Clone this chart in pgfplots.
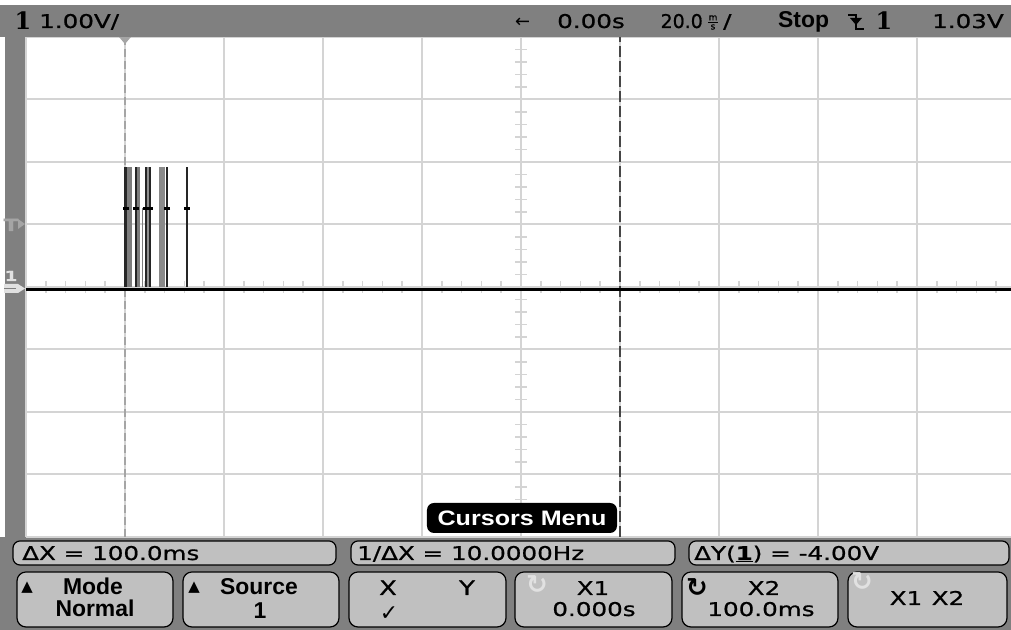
\documentclass[border=0pt]{standalone}
\usepackage{pgfplots}
\pgfplotsset{compat=1.18}
\usepackage{fontspec}
\setmainfont{DejaVu Sans}
\newfontfamily\scf[FakeStretch=1.3,FakeBold=0.8]{DejaVu Sans}
\newfontfamily\scn[FakeBold=0.8]{DejaVu Sans}
\newfontfamily\btnf{Liberation Sans}
\newfontfamily\btnw[FakeStretch=1.2]{Liberation Sans}
\newfontfamily\symf{DejaVu Sans}
\newfontfamily\serifb{DejaVu Serif}
\definecolor{scopegray}{RGB}{128,128,128}
\definecolor{btnfill}{RGB}{192,192,192}
\definecolor{gridc}{RGB}{212,212,212}
\definecolor{cur1}{RGB}{165,165,165}
\definecolor{cur2}{RGB}{70,70,70}
\definecolor{pulsegray}{RGB}{125,125,125}
\definecolor{faint}{RGB}{225,225,225}

% pulse train (time in ms, level in V)
\pgfplotstableread{
t v
0.1 1.92
2.2 1.92
4.25 1.92
5.05 1.92
8.5 1.92
12.5 1.92
}\darkpulses

\begin{document}
\begin{tikzpicture}
\useasboundingbox (0,0) rectangle (1011bp,630bp);
\clip (0,0) rectangle (1011bp,630bp);
\begin{scope}[x=1bp,y=-1bp,yshift=630bp]
  \fill[scopegray] (0,0) rectangle (1011,630);
  \fill[white] (0,0) rectangle (1011,5);
  \fill[white] (0,0) rectangle (5,537);
  \fill[white] (26,37) rectangle (1016,537);
  % minor ticks on centre lines
  \foreach \k in {1,...,39} \draw[gridc, line width=1.5] (515,{37+\k*12.5}) -- (527,{37+\k*12.5});
  \foreach \k in {1,...,49} \draw[gridc, line width=1.5] ({26+\k*19.8},281) -- ({26+\k*19.8},293);
\end{scope}

\begin{axis}[at={(26bp,93bp)}, anchor=south west, scale only axis,
  width=990bp, height=500bp,
  xmin=-20, xmax=180, ymin=-4, ymax=4,
  xtick={-20,0,...,180}, ytick={-4,-3,...,4},
  xticklabels={}, yticklabels={},
  grid=major, major grid style={gridc, line width=2bp},
  axis line style={draw=none}, tick style={draw=none}]
  % cursors
  \addplot[cur1, line width=2.5bp, dash pattern=on 8bp off 4bp] coordinates {(0,-4) (0,4)};
  \addplot[cur2, line width=2.5bp, dash pattern=on 11bp off 4bp] coordinates {(100,-4) (100,4)};
  % gray envelopes of the burst
  \addplot[fill=pulsegray, draw=none] coordinates {(0.3,1.92) (1.35,1.92)} \closedcycle;
  \addplot[fill=pulsegray, draw=none] coordinates {(2.4,1.92) (2.95,1.92)} \closedcycle;
  \addplot[fill=pulsegray!85, draw=none] coordinates {(4.3,1.92) (5.0,1.92)} \closedcycle;
  \addplot[fill=pulsegray!90, draw=none] coordinates {(6.9,1.92) (8.1,1.92)} \closedcycle;
  \addplot[ycomb, draw=pulsegray, line width=1.2bp] coordinates {(3.5,1.26)};
  % dark pulses
  \addplot[ycomb, black!85, line width=2.6bp, mark=none] table[x=t,y=v] {\darkpulses};
  \addplot[only marks, mark=-, mark size=3bp, black, line width=3bp]
    coordinates {(0.2,1.26) (2.3,1.26) (4.25,1.26) (5.0,1.26) (8.5,1.26) (12.5,1.26)};
  % baseline trace
  \addplot[black, line width=3.8bp] coordinates {(-20,-0.04) (180,-0.04)};
\end{axis}

\begin{scope}[x=1bp,y=-1bp,yshift=630bp]
  % trigger time marker
  \fill[cur1] (119,37) -- (131,37) -- (125,44) -- cycle;
  % top status bar
  \fill[scopegray] (0,5) rectangle (1011,37);
  \node[anchor=base, font=\serifb\bfseries\fontsize{24}{24}\selectfont, inner sep=0] at (23,30) {1};
  \node[anchor=base west, font=\scf\fontsize{19}{19}\selectfont, inner sep=0] at (39,28) {1.00V/};
  \node[anchor=base west, font=\symf\fontsize{18}{18}\selectfont, inner sep=0] at (515,28) {←};
  \node[anchor=base west, font=\scf\fontsize{19}{19}\selectfont, inner sep=0] at (557,28) {0.00s};
  \node[anchor=base east, font=\scn\fontsize{19}{19}\selectfont, inner sep=0] at (703,28) {20.0};
  \node[anchor=center, font=\scn\fontsize{9}{10}\selectfont, inner sep=0] at (713,22.5) {\shortstack{m\\[1pt]s}};
  \draw[line width=1] (708,23) -- (718,23);
  \node[anchor=base west, font=\scf\fontsize{19}{19}\selectfont, inner sep=0] at (723,28) {/};
  \node[anchor=base west, font=\btnf\bfseries\fontsize{23}{23}\selectfont, inner sep=0] at (778,28) {Stop};
  \draw[line width=2] (848,15) -- (856,15) -- (856,29) -- (864,29);
  \fill (850,18) -- (862,18) -- (856,25) -- cycle;
  \node[anchor=base, font=\serifb\bfseries\fontsize{24}{24}\selectfont, inner sep=0] at (884,30) {1};
  \node[anchor=base west, font=\scf\fontsize{19}{19}\selectfont, inner sep=0] at (932,28) {1.03V};
  % left strip markers
  \node[anchor=base, font=\scf\bfseries\fontsize{17}{17}\selectfont, text=cur1, inner sep=0] at (11,231) {T};
  \fill[cur1] (18,219) -- (25,224) -- (18,229) -- cycle;
  \node[anchor=base, font=\scf\bfseries\fontsize{14}{14}\selectfont, text=faint, inner sep=0] at (11,281) {1};
  \fill[faint] (4,284) -- (18,284) -- (25,288.5) -- (18,293) -- (4,293) -- cycle;
  \draw[scopegray, line width=1] (4,288.5) -- (16,288.5);
  % Cursors Menu label
  \node[fill=black, text=white, rounded corners=7bp, font=\btnw\bfseries\fontsize{21}{21}\selectfont,
        inner sep=0, minimum width=190bp, minimum height=30bp] at (522,518) {Cursors Menu};
  % row 1 readouts
  \draw[fill=btnfill, rounded corners=7, line width=1.2] (13,541) rectangle (336,565);
  \draw[fill=btnfill, rounded corners=7, line width=1.2] (351,541) rectangle (675,565);
  \draw[fill=btnfill, rounded corners=7, line width=1.2] (689,541) rectangle (1009,565);
  \node[anchor=base west, font=\scf\fontsize{19}{19}\selectfont, inner sep=0] at (22,560) {ΔX = 100.0ms};
  \node[anchor=base west, font=\scf\fontsize{19}{19}\selectfont, inner sep=0] at (357,560) {1/ΔX = 10.0000Hz};
  \node[anchor=base west, font=\scf\fontsize{19}{19}\selectfont, inner sep=0] at (694,560) {ΔY(\textbf{\underline{1}}) = -4.00V};
  % row 2 softkeys
  \foreach \a/\b in {17/173, 183/339, 349/506, 515/672, 682/838, 848/1007}
    \draw[fill=btnfill, rounded corners=9, line width=1.2] (\a,572) rectangle (\b,627);
  \node[anchor=base, font=\symf\fontsize{15}{15}\selectfont, inner sep=0] at (27,592) {▲};
  \node[anchor=base, font=\btnf\bfseries\fontsize{23}{23}\selectfont, inner sep=0] at (93,595) {Mode};
  \node[anchor=base, font=\btnf\bfseries\fontsize{23}{23}\selectfont, inner sep=0] at (95,617) {Normal};
  \node[anchor=base, font=\symf\fontsize{15}{15}\selectfont, inner sep=0] at (194,592) {▲};
  \node[anchor=base, font=\btnf\bfseries\fontsize{23}{23}\selectfont, inner sep=0] at (259,595) {Source};
  \node[anchor=base, font=\btnf\bfseries\fontsize{23}{23}\selectfont, inner sep=0] at (260,619) {1};
  \node[anchor=base, font=\scf\fontsize{20}{20}\selectfont, inner sep=0] at (388,595) {X};
  \node[anchor=base, font=\scf\fontsize{20}{20}\selectfont, inner sep=0] at (467,595) {Y};
  \node[anchor=base, font=\symf\bfseries\fontsize{22}{22}\selectfont, inner sep=0] at (389,621) {✓};
  \node[anchor=base, font=\symf\bfseries\fontsize{26}{26}\selectfont, text=faint, inner sep=0] at (537,594) {↻};
  \node[anchor=base, font=\scf\fontsize{19}{19}\selectfont, inner sep=0] at (593,595) {X1};
  \node[anchor=base, font=\scf\fontsize{19}{19}\selectfont, inner sep=0] at (594,616) {0.000s};
  \node[anchor=base, font=\symf\bfseries\fontsize{26}{26}\selectfont, inner sep=0] at (697,597) {↻};
  \node[anchor=base, font=\scf\fontsize{19}{19}\selectfont, inner sep=0] at (764,595) {X2};
  \node[anchor=base, font=\scf\fontsize{19}{19}\selectfont, inner sep=0] at (761,616) {100.0ms};
  \node[anchor=base, font=\symf\bfseries\fontsize{26}{26}\selectfont, text=faint, inner sep=0] at (862,591) {↻};
  \node[anchor=base, font=\scf\fontsize{19}{19}\selectfont, inner sep=0] at (927,605) {X1\enspace X2};
\end{scope}
\end{tikzpicture}
\end{document}
